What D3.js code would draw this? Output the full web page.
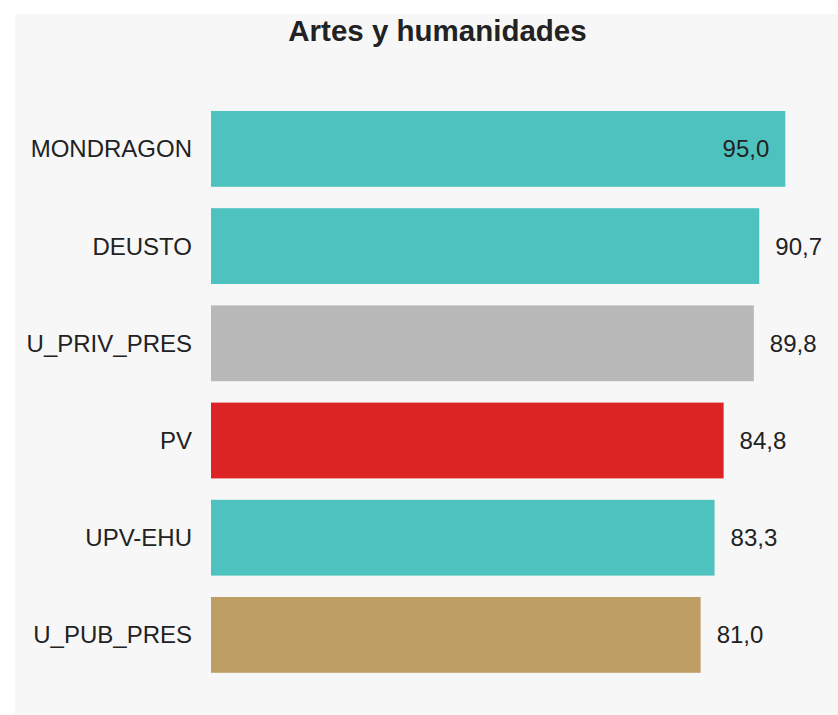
<!DOCTYPE html>
<html>
<head>
<meta charset="utf-8">
<script src="https://cdn.jsdelivr.net/npm/d3@7"></script>
<style>
  html, body { margin: 0; padding: 0; background: #ffffff; }
  svg { display: block; }
  text { font-family: "Liberation Sans", Arial, sans-serif; }
</style>
</head>
<body>
<div id="chart"></div>
<script>
const title = "Artes y humanidades";
const categories = ["MONDRAGON", "DEUSTO", "U_PRIV_PRES", "PV", "UPV-EHU", "U_PUB_PRES"];
const values = [95.0, 90.7, 89.8, 84.8, 83.3, 81.0];
const colors = ["#4ec2be", "#4ec2be", "#b8b8b8", "#dc2424", "#4ec2be", "#bf9e66"];

const W = 838, H = 715;
const svg = d3.select("#chart").append("svg").attr("width", W).attr("height", H);

svg.append("rect").attr("x", 15).attr("y", 14).attr("width", W - 15).attr("height", H - 14).attr("fill", "#f7f7f7");

svg.append("text").attr("x", 437.5).attr("y", 41).attr("text-anchor", "middle")
  .attr("font-size", 29.5).attr("font-weight", "bold").attr("fill", "#222")
  .text(title);

const x = d3.scaleLinear().domain([0, 100]).range([211, 815.5]);
const y = d3.scaleBand().domain(categories).range([100.3, 683.5]).paddingInner(0.22).paddingOuter(0.11);

const data = categories.map((c, i) => ({ c, v: values[i], col: colors[i] }));

svg.selectAll("rect.bar").data(data).join("rect").attr("class", "bar")
  .attr("x", x(0)).attr("y", d => y(d.c))
  .attr("width", d => x(d.v) - x(0)).attr("height", y.bandwidth())
  .attr("fill", d => d.col);

svg.selectAll("text.cat").data(data).join("text").attr("class", "cat")
  .attr("x", x(0) - 19).attr("y", d => y(d.c) + y.bandwidth() / 2)
  .attr("dy", "0.35em").attr("text-anchor", "end")
  .attr("font-size", 24).attr("fill", "#222")
  .text(d => d.c);

const fmt = v => v.toFixed(1).replace(".", ",");
svg.selectAll("text.val").data(data).join("text").attr("class", "val")
  .attr("y", d => y(d.c) + y.bandwidth() / 2)
  .attr("dy", "0.35em").attr("font-size", 24).attr("fill", "#222")
  .text(d => fmt(d.v))
  .each(function (d) {
    const t = d3.select(this);
    const w = this.getComputedTextLength();
    const xe = x(d.v);
    if (xe + 16 + w > W) {
      t.attr("x", xe - 16).attr("text-anchor", "end");
    } else {
      t.attr("x", xe + 16).attr("text-anchor", "start");
    }
  });
</script>
</body>
</html>
